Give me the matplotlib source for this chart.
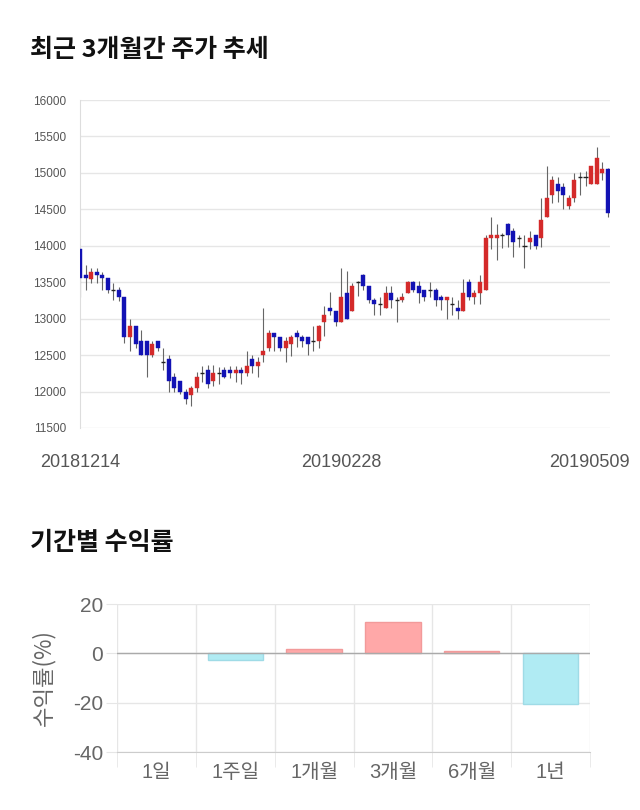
import matplotlib
matplotlib.use('Agg')
import matplotlib.pyplot as plt
from matplotlib.transforms import ScaledTranslation

plt.rcParams['font.family'] = ['Noto Sans CJK KR', 'DejaVu Sans']
plt.rcParams['axes.unicode_minus'] = False

# 최근 3개월 일봉 (시가, 고가, 저가, 종가)
opens = [13950, 13600, 13550, 13640, 13600, 13560, 13400, 13400, 13300, 12750,
         12900, 12700, 12700, 12500, 12700, 12400, 12450, 12200, 12150, 12000,
         11950, 12050, 12250, 12300, 12150, 12250, 12300, 12300, 12250, 12300,
         12250, 12450, 12350, 12500, 12600, 12800, 12750, 12600, 12650, 12800,
         12750, 12750, 12700, 12700, 12950, 13150, 13100, 12950, 13350, 13100,
         13500, 13600, 13450, 13250, 13200, 13150, 13350, 13250, 13250, 13350,
         13500, 13450, 13400, 13400, 13400, 13300, 13250, 13200, 13150, 13100,
         13500, 13300, 13350, 13400, 14100, 14100, 14150, 14300, 14200, 14100,
         14000, 14050, 14150, 14100, 14400, 14700, 14850, 14800, 14550, 14650,
         14950, 14950, 14850, 14850, 15000, 15050]
highs = [13960, 13740, 13690, 13690, 13640, 13560, 13490, 13430, 13300, 13000,
         12900, 12850, 12700, 12700, 12700, 12600, 12500, 12250, 12150, 12040,
         12080, 12270, 12350, 12360, 12360, 12340, 12340, 12350, 12350, 12340,
         12550, 12500, 12480, 13150, 12850, 12810, 12750, 12750, 12780, 12840,
         12780, 12750, 12900, 12910, 13170, 13360, 13100, 13700, 13660, 13490,
         13510, 13610, 13450, 13280, 13300, 13450, 13450, 13300, 13350, 13510,
         13510, 13510, 13400, 13500, 13420, 13320, 13300, 13300, 13250, 13550,
         13550, 13400, 13600, 14150, 14400, 14300, 14180, 14310, 14250, 14150,
         14150, 14200, 14150, 14650, 15100, 14960, 14950, 14860, 14700, 15000,
         15010, 15020, 15100, 15350, 15150, 15070]
lows = [13300, 13400, 13490, 13490, 13400, 13350, 13250, 13240, 12670, 12550,
        12600, 12500, 12200, 12480, 12550, 12300, 12000, 12000, 11960, 11830,
        11800, 11990, 12130, 12050, 12080, 12110, 12180, 12190, 12130, 12100,
        12220, 12250, 12200, 12400, 12550, 12560, 12550, 12410, 12490, 12610,
        12610, 12500, 12550, 12600, 12760, 13050, 12900, 12950, 12990, 13100,
        13310, 13400, 13210, 13050, 13050, 13150, 13150, 12950, 13230, 13350,
        13370, 13220, 13240, 13300, 13180, 13120, 13000, 13050, 13000, 13100,
        13250, 13200, 13200, 13400, 13950, 13800, 13970, 13990, 13850, 13980,
        13700, 13950, 13950, 13990, 14400, 14590, 14600, 14500, 14500, 14600,
        14700, 14820, 14850, 14850, 14900, 14400]
closes = [13560, 13560, 13640, 13600, 13555, 13400, 13400, 13300, 12750, 12900,
          12650, 12500, 12500, 12650, 12600, 12400, 12150, 12050, 12000, 11900,
          12050, 12200, 12250, 12100, 12250, 12250, 12200, 12250, 12300, 12250,
          12350, 12350, 12400, 12550, 12800, 12750, 12600, 12700, 12750, 12750,
          12700, 12650, 12700, 12900, 13050, 13100, 12950, 13300, 13000, 13450,
          13500, 13450, 13250, 13200, 13200, 13350, 13250, 13250, 13300, 13500,
          13400, 13350, 13300, 13400, 13250, 13250, 13300, 13200, 13100, 13350,
          13300, 13350, 13500, 14100, 14150, 14150, 14150, 14150, 14050, 14100,
          14000, 14100, 14000, 14350, 14650, 14900, 14750, 14700, 14650, 14900,
          14950, 14950, 15100, 15200, 15050, 14450]
date_ticks = [0, 47, 95]
date_labels = ['20181214', '20190228', '20190509']

# 기간별 수익률
periods = ['1일', '1주일', '1개월', '3개월', '6개월', '1년']
returns = [0.0, -2.8, 1.8, 12.6, 0.8, -20.5]

UP = '#d42a2a'
DOWN = '#1212b4'

fig = plt.figure(figsize=(6.4, 8.1), dpi=100)

fig.text(30 / 640, 1 - 50 / 810, '최근 3개월간 주가 추세', fontsize=18,
         fontweight='bold', va='center', ha='left', color='#111111')
fig.text(30 / 640, 1 - 543 / 810, '기간별 수익률', fontsize=18,
         fontweight='bold', va='center', ha='left', color='#111111')

# ---- 캔들 차트 ----
ax = fig.add_axes([80 / 640, 382 / 810, 530 / 640, 328 / 810])
xs = list(range(len(opens)))
ax.vlines(xs, lows, highs, color='#666666', linewidth=0.8, zorder=2)
for i in xs:
    o, c = opens[i], closes[i]
    if o == c:
        ax.hlines(o, i - 0.38, i + 0.38, color='#222222', linewidth=1.0, zorder=3)
    else:
        col = UP if c > o else DOWN
        ax.bar(i, c - o, bottom=o, width=0.72, color=col, edgecolor=col,
               linewidth=0.3, zorder=3)

ax.set_xlim(0, 95.4)
ax.set_ylim(11500, 16000)
ax.set_yticks(range(11500, 16001, 500))
ax.grid(axis='y', color='#e6e6e6', linewidth=1.0, zorder=0)
ax.set_axisbelow(True)
for s in ['top', 'right', 'bottom']:
    ax.spines[s].set_visible(False)
ax.spines['left'].set_color('#dddddd')
ax.tick_params(axis='y', length=0, pad=10, labelsize=8.5, labelcolor='#555555')
for lab in ax.get_yticklabels():
    lab.set_family(['Liberation Sans', 'DejaVu Sans'])
ax.set_xticks(date_ticks)
ax.set_xticklabels(date_labels)
ax.tick_params(axis='x', length=0, pad=19, labelsize=13, labelcolor='#555555')
for lab in ax.get_xticklabels():
    lab.set_family(['Liberation Sans', 'DejaVu Sans'])
last = ax.get_xticklabels()[-1]
last.set_transform(last.get_transform() + ScaledTranslation(-0.18, 0, fig.dpi_scale_trans))

# ---- 수익률 막대 ----
ax2 = fig.add_axes([117 / 640, 58 / 810, 473 / 640, 148 / 810])
cols = ['#ffa8a8' if v > 0 else '#b0ebf3' for v in returns]
edges = ['#f29a9a' if v > 0 else '#9fdbe6' for v in returns]
widths = [1 if v != 0 else 0 for v in returns]
ax2.bar(range(len(periods)), returns, width=0.7, color=cols, edgecolor=edges,
        linewidth=widths, zorder=3)
ax2.axhline(0, color='#aaaaaa', linewidth=1, zorder=4)
ax2.set_xlim(-0.5, len(periods) - 0.5)
ax2.set_ylim(-40, 20)
ax2.set_yticks([20, 0, -20, -40])
ax2.set_xticks(range(len(periods)))
ax2.set_xticklabels(periods)
ax2.set_xticks([i - 0.5 for i in range(len(periods) + 1)], minor=True)
ax2.grid(axis='y', color='#e6e6e6', linewidth=1, zorder=0)
ax2.grid(axis='x', which='minor', color='#e6e6e6', linewidth=1, zorder=0)
for s in ['top', 'right', 'left']:
    ax2.spines[s].set_visible(False)
ax2.spines['bottom'].set_color('#cccccc')
ax2.tick_params(axis='y', length=8, color='#e6e6e6', pad=2, labelsize=15,
                labelcolor='#666666')
ax2.tick_params(axis='x', which='major', length=0, pad=8, labelsize=14.5,
                labelcolor='#666666')
ax2.tick_params(axis='x', which='minor', length=11, color='#e6e6e6')
for lab in ax2.get_yticklabels() + ax2.get_xticklabels():
    lab.set_family(['Liberation Sans', 'Noto Sans CJK KR'])
ax2.set_ylabel('수익률(%)', fontsize=16, color='#666666')
ax2.yaxis.set_label_coords(-62 / 473, 0.5)

fig.savefig('out.png', dpi=100)
